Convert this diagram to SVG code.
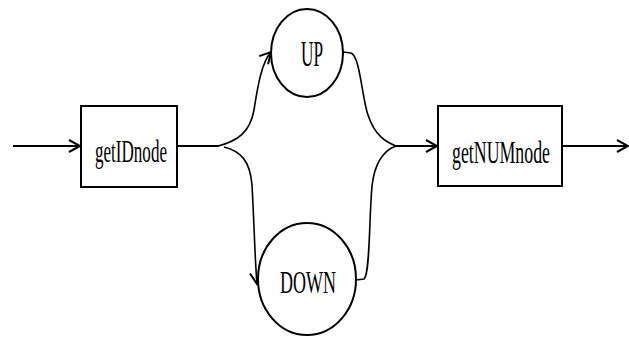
<svg xmlns="http://www.w3.org/2000/svg" width="629" height="337" viewBox="0 0 629 337">
  <style>
    .box { fill: #fff; stroke: #000; stroke-width: 2; }
    .state { fill: #fff; stroke: #000; stroke-width: 2; }
    .label { font-family: "Liberation Serif", "Times New Roman", serif; fill: #000; text-anchor: middle; }
    .line { fill: none; stroke: #000; stroke-width: 2; }
    .curve { fill: none; stroke: #000; stroke-width: 1.6; }
  </style>
  <defs>
    <marker id="arrow" markerUnits="userSpaceOnUse" viewBox="0 0 14 14" markerWidth="14" markerHeight="14" refX="12" refY="7" orient="auto">
      <path d="M1,1 L12,7 L1,13" fill="none" stroke="#000" stroke-width="2"/>
    </marker>
  </defs>

  <g id="connectors">
    <path class="line" d="M13,146 L80,146" marker-end="url(#arrow)"/>
    <path class="line" d="M177,146 L219,146"/>
    <path class="curve" d="M218,146 C238,141 250,132 254,110 C258,84 262,62 271,52" marker-end="url(#arrow)"/>
    <path class="curve" d="M224,147 C240,151 250,160 252,185 C254,220 255,262 257,284" marker-end="url(#arrow)"/>
    <path class="curve" d="M343,52 L351,53 C360,56 362,98 368,115 C375,136 386,142 396,146"/>
    <path class="curve" d="M356,280 L364,279 C370,275 369,220 372,186 C375,160 385,150 396,146"/>
    <path class="line" d="M396,146 L437,146" marker-end="url(#arrow)"/>
    <path class="line" d="M562,146 L628,146" marker-end="url(#arrow)"/>
  </g>

  <g id="getIDnode">
    <rect class="box" x="81" y="106" width="96" height="81"/>
    <text class="label" x="131" y="162" font-size="31" textLength="72" lengthAdjust="spacingAndGlyphs">getIDnode</text>
  </g>

  <g id="UP">
    <ellipse class="state" cx="307" cy="53" rx="36" ry="44"/>
    <text class="label" x="312" y="66" font-size="36" textLength="22" lengthAdjust="spacingAndGlyphs">UP</text>
  </g>

  <g id="DOWN">
    <ellipse class="state" cx="307" cy="279" rx="49" ry="56"/>
    <text class="label" x="308" y="293" font-size="32" textLength="56" lengthAdjust="spacingAndGlyphs">DOWN</text>
  </g>

  <g id="getNUMnode">
    <rect class="box" x="438" y="106" width="124" height="80"/>
    <text class="label" x="501" y="163" font-size="31" textLength="98" lengthAdjust="spacingAndGlyphs">getNUMnode</text>
  </g>
</svg>
